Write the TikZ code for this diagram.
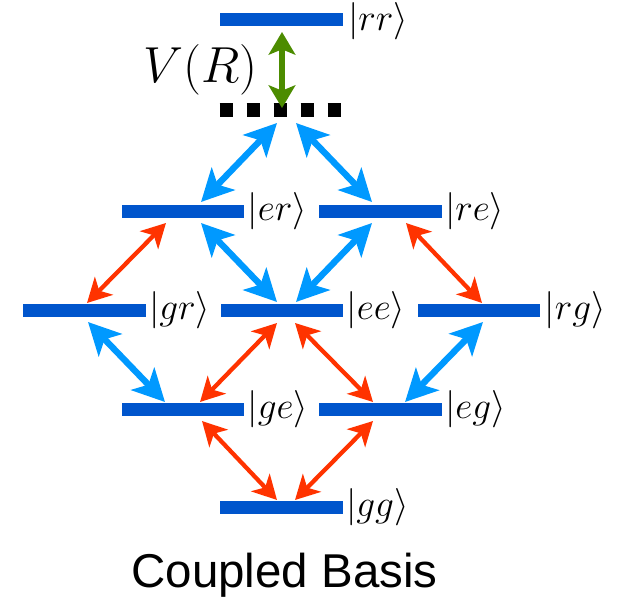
\RequirePackage{fix-cm}
\documentclass[tikz,border=0pt]{standalone}
\usepackage{fontspec}
\newfontfamily\capfont{Liberation Sans}
\usetikzlibrary{arrows.meta,calc}
\definecolor{barblue}{RGB}{0,85,204}
\definecolor{linkblue}{RGB}{0,153,255}
\definecolor{linkred}{RGB}{255,51,0}
\definecolor{linkgreen}{RGB}{76,140,0}

\begin{document}
\begin{tikzpicture}[x=0.75pt,y=-0.75pt,
  level/.style={fill=barblue, draw=none, minimum width=91.9pt,
    minimum height=9.75pt, inner sep=0pt, outer sep=0pt},
  ket/.style={anchor=west, inner sep=0pt, font=\fontsize{28}{32}\selectfont},
  strong/.style={line width=4.8pt, color=linkblue,
    {Stealth[length=24pt,width=24pt,inset=6pt]}-{Stealth[length=24pt,width=24pt,inset=6pt]}},
  weak/.style={line width=3.2pt, color=linkred,
    {Stealth[length=18pt,width=19pt,inset=5pt]}-{Stealth[length=18pt,width=19pt,inset=5pt]}},
  vdw/.style={line width=3.9pt, color=linkgreen,
    {Stealth[length=17pt,width=20pt,inset=4pt]}-{Stealth[length=17pt,width=20pt,inset=4pt]}},
  pairline/.style={line width=10.5pt, dash pattern=on 9.75pt off 10.5pt}
]
\useasboundingbox (0,0) rectangle (617,599);

% energy levels
\node[level] (rr) at (281.5,19.5) {};
\node[inner sep=0pt, minimum width=90.75pt, minimum height=10.5pt] (dots) at (280.5,110) {};
\node[level] (er) at (183,211.5) {};
\node[level] (re) at (380.5,211.5) {};
\node[level] (gr) at (84.5,310.5) {};
\node[level] (ee) at (282,310.5) {};
\node[level] (rg) at (479,310.5) {};
\node[level] (ge) at (183,409) {};
\node[level] (eg) at (380.5,409) {};
\node[level] (gg) at (281.5,507.5) {};

% doubly excited pair state without interaction
\draw[pairline] (dots.west) -- (dots.east);

% state labels
\node[ket] (rrlab) at ($(rr.east)+(5,2)$) {$|rr\rangle$};
\node[ket] (erlab) at ($(er.east)+(3,0)$) {$|er\rangle$};
\node[ket] (relab) at ($(re.east)+(3,0)$) {$|re\rangle$};
\node[ket] (grlab) at ($(gr.east)+(3,0)$) {$|gr\rangle$};
\node[ket] (eelab) at ($(ee.east)+(3,0)$) {$|ee\rangle$};
\node[ket] (rglab) at ($(rg.east)+(4,0)$) {$|rg\rangle$};
\node[ket] (gelab) at ($(ge.east)+(3,0)$) {$|ge\rangle$};
\node[ket] (eglab) at ($(eg.east)+(3,0)$) {$|eg\rangle$};
\node[ket] (gglab) at ($(gg.east)+(3,0)$) {$|gg\rangle$};

\node[anchor=east, inner sep=0pt, font=\fontsize{38}{44}\selectfont] (vlab) at (258,70) {$V(R)$};

% interaction shift
\draw[vdw] ($(rr)+(0.5,12.5)$) -- ($(dots)+(1.5,-2)$);

% Rydberg couplings
\draw[strong] ($(dots)+(-3.5,13)$) -- ($(er)+(18,-9.5)$);
\draw[strong] ($(dots)+(15.5,13)$) -- ($(re)+(-8.5,-9.5)$);
\draw[strong] ($(er)+(18,11.5)$) -- ($(ee)+(-5,-8.5)$);
\draw[strong] ($(re)+(-8.5,11.5)$) -- ($(ee)+(14,-8.5)$);
\draw[strong] ($(gr)+(3.5,11.5)$) -- ($(ge)+(-18,-7)$);
\draw[strong] ($(rg)+(4,11.5)$) -- ($(eg)+(24.5,-7)$);

% ground-excited couplings
\draw[weak] ($(er)+(-17,11.5)$) -- ($(gr)+(2.5,-7.5)$);
\draw[weak] ($(re)+(25.5,11.5)$) -- ($(rg)+(3,-7.5)$);
\draw[weak] ($(ee)+(-5,12.5)$) -- ($(ge)+(17,-7)$);
\draw[weak] ($(ee)+(13,12.5)$) -- ($(eg)+(-7.5,-7)$);
\draw[weak] ($(ge)+(19,12)$) -- ($(gg)+(-4.5,-7.5)$);
\draw[weak] ($(eg)+(-7.5,12)$) -- ($(gg)+(13.5,-7.5)$);

\node[anchor=base, inner sep=0pt, font=\capfont\fontsize{35.6}{40}\selectfont] (caption) at (284.5,587) {Coupled Basis};
\end{tikzpicture}
\end{document}
